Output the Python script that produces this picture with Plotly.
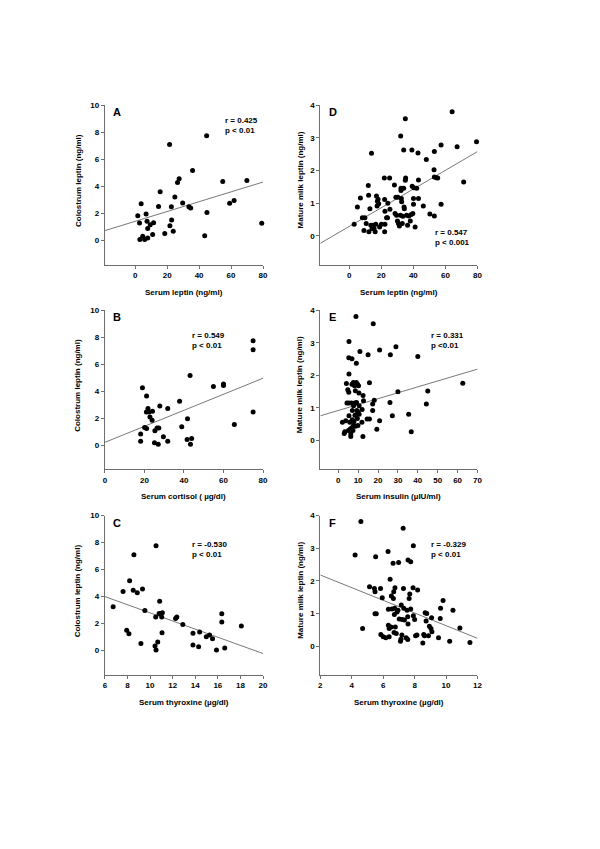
import plotly.graph_objects as go

# ---------------- data ----------------
# Panel A: serum leptin vs colostrum leptin
A_x = [1.6, 2.7, 3.7, 2.9, 4.7, 5.9, 6.8, 7.4, 7.8, 7.8, 9.4, 10.9, 11.5, 14.6, 15.6, 18.5,
       21.5, 21.7, 22.8, 22.6, 23.8, 24.8, 26.5, 27.5, 29.7, 33.6, 34.7, 35.9, 43.5, 44.7,
       44.9, 54.8, 59.1, 61.9, 69.9, 79.2]
A_y = [1.82, 1.28, 2.7, 0.05, 0.3, 0.05, 1.94, 1.4, 0.17, 0.86, 1.15, 0.42, 1.3, 2.5, 3.6, 0.49,
       7.1, 1.08, 1.5, 2.48, 0.66, 3.2, 4.27, 4.55, 2.75, 2.48, 2.38, 5.16, 0.34, 7.74,
       2.05, 4.35, 2.73, 2.95, 4.42, 1.25]
A_fit_x = [-19, 80]
A_fit_y = [0.71, 4.31]

# Panel D: serum leptin vs mature milk leptin
D_x = [3.1, 5.1, 7.0, 8.2, 9.2, 9.8, 10.6, 11.9, 12.1, 12.3, 12.9, 13.5, 13.9, 14.3, 14.9, 15.5,
       16.2, 16.6, 17.0, 17.4, 17.6, 18.0, 18.4, 19.0, 20.1, 21.9, 22.1, 22.3, 22.3, 22.1, 23.3,
       23.9, 24.1, 25.2, 25.4, 28.2, 28.6, 29.1, 29.5, 30.1, 30.3, 30.7, 31.3, 31.9, 32.1, 32.3,
       32.3, 32.5, 32.7, 33.1, 33.4, 34.0, 34.0, 34.2, 34.4, 35.0, 35.0, 35.2, 35.8, 36.4, 37.2,
       38.1, 38.7, 39.1, 39.3, 39.7, 40.1, 40.1, 40.3, 41.1, 42.1, 42.9, 43.2, 43.2, 46.2, 48.1,
       50.3, 52.9, 53.1, 53.1, 53.1, 54.4, 55.2, 57.3, 57.3, 64.2, 67.3, 71.4, 79.4]
D_y = [0.35, 0.88, 1.16, 0.55, 0.16, 0.55, 0.38, 1.54, 1.24, 0.12, 0.83, 0.32, 2.53, 0.22, 0.32, 0.22,
       0.12, 0.35, 1.22, 0.91, 1.06, 1.12, 0.98, 0.27, 0.35, 1.77, 1.11, 0.75, 0.35, 0.12, 0.55,
       0.55, 1.0, 1.77, 0.81, 1.56, 0.68, 1.18, 0.63, 0.45, 1.18, 0.38, 0.3, 0.63, 3.06, 1.46,
       1.39, 1.14, 1.04, 0.38, 0.6, 1.46, 2.63, 0.88, 0.83, 3.59, 1.7, 1.77, 0.63, 0.32, 0.61,
       0.45, 0.65, 2.63, 1.52, 0.68, 1.14, 0.97, 1.47, 0.27, 1.46, 2.54, 1.71, 1.14, 0.91, 2.34,
       0.67, 2.02, 2.58, 0.61, 1.8, 1.78, 1.77, 2.78, 0.97, 3.8, 2.73, 1.65, 2.88]
D_fit_x = [-18, 80]
D_fit_y = [-0.23, 2.58]

# Panel B: serum cortisol vs colostrum leptin
B_x = [19.0, 18.1, 18.1, 20.1, 21.1, 21.1, 21.0, 21.8, 22.3, 22.8, 24.1, 23.9, 25.3, 25.1, 26.4,
       27.0, 27.3, 27.8, 29.6, 31.8, 31.8, 37.8, 38.9, 41.8, 41.6, 43.1, 43.3, 43.9, 54.9, 60.0,
       60.0, 65.5, 75.0, 75.0, 75.0]
B_y = [4.24, 0.81, 0.29, 1.3, 1.23, 3.63, 2.45, 2.7, 2.45, 2.08, 2.5, 1.84, 1.05, 0.17, 1.27,
       0.05, 1.27, 2.9, 0.61, 2.7, 0.29, 3.24, 1.35, 1.94, 0.42, 5.15, 0.05, 0.49, 4.34, 4.53,
       4.41, 1.52, 7.72, 7.06, 2.45]
B_fit_x = [0, 80]
B_fit_y = [0.2, 4.95]

# Panel E: serum insulin vs mature milk leptin
E_x = [2.1, 3.0, 3.3, 3.8, 4.1, 4.4, 4.8, 5.1, 5.3, 5.3, 5.4, 5.3, 5.4, 5.4, 5.8, 6.1, 6.3, 6.3,
       6.6, 6.6, 6.9, 6.9, 7.1, 7.1, 7.4, 7.4, 7.6, 7.7, 7.9, 8.2, 8.2, 8.4, 8.6, 8.7, 8.9, 9.1,
       9.1, 9.2, 9.4, 9.6, 9.7, 9.9, 10.0, 10.2, 10.4, 10.5, 10.5, 10.9, 11.9, 12.0, 12.4, 12.5,
       12.7, 14.5, 15.0, 15.7, 15.7, 17.3, 17.3, 17.6, 18.1, 19.4, 20.8, 20.8, 26.0, 26.2, 27.2,
       29.0, 30.0, 35.4, 36.7, 40.0, 44.3, 45.0, 62.6]
E_y = [0.56, 0.22, 0.27, 0.61, 1.75, 1.15, 1.56, 0.31, 1.15, 1.48, 3.04, 2.54, 2.04, 0.76, 0.56,
       0.36, 0.2, 0.13, 0.36, 1.15, 2.51, 1.73, 0.92, 0.64, 0.44, 0.31, 1.78, 1.07, 0.58, 1.15,
       1.68, 0.78, 1.53, 0.44, 3.8, 1.78, 2.37, 1.17, 0.92, 0.68, 1.73, 0.46, 0.87, 1.68, 1.46,
       1.07, 0.81, 2.73, 0.56, 0.95, 0.13, 1.38, 1.22, 0.66, 2.63, 0.66, 1.77, 0.92, 1.12, 3.58,
       1.24, 0.35, 0.61, 2.78, 1.17, 2.63, 0.76, 2.88, 1.5, 0.81, 0.27, 2.58, 1.12, 1.52, 1.76]
E_fit_x = [-9, 70]
E_fit_y = [0.76, 2.19]

# Panel C: serum thyroxine vs colostrum leptin
C_x = [6.73, 7.61, 7.93, 8.13, 8.19, 8.51, 8.57, 8.87, 9.19, 9.33, 9.54, 10.44, 10.53, 10.50,
       10.53, 10.68, 10.80, 10.85, 10.94, 11.03, 11.06, 11.09, 12.26, 12.37, 12.9, 13.8, 13.8,
       14.3, 14.39, 14.98, 15.27, 15.53, 15.88, 16.35, 16.35, 16.61, 18.08]
C_y = [3.24, 4.37, 1.5, 1.25, 5.18, 4.47, 7.1, 4.28, 0.52, 4.57, 2.97, 0.34, 0.05, 2.48,
       7.76, 0.64, 2.75, 3.66, 2.73, 2.48, 1.33, 2.8, 2.38, 2.48, 1.94, 1.28, 0.42,
       0.29, 1.38, 1.03, 1.15, 0.88, 0.05, 2.11, 2.73, 0.2, 1.82]
C_fit_x = [6, 20]
C_fit_y = [4.0, -0.22]

# Panel F: serum thyroxine vs mature milk leptin
F_x = [4.21, 4.58, 4.69, 5.13, 5.44, 5.48, 5.52, 5.48, 5.56, 5.83, 5.85, 5.94, 6.0, 6.17, 6.31,
       6.33, 6.33, 6.38, 6.38, 6.44, 6.52, 6.5, 6.56, 6.63, 6.65, 6.67, 6.69, 6.71, 6.73, 6.75,
       6.77, 6.83, 6.88, 6.94, 7.02, 6.98, 7.10, 7.13, 7.15, 7.19, 7.21, 7.27, 7.29, 7.31, 7.35,
       7.46, 7.52, 7.56, 7.56, 7.58, 7.58, 7.65, 7.69, 7.75, 7.75, 7.9, 7.92, 7.92, 8.0, 8.06,
       8.15, 8.19, 8.52, 8.58, 8.63, 8.67, 8.77, 8.73, 8.88, 8.94, 9.04, 9.08, 9.1, 9.52, 9.65,
       9.63, 9.81, 10.23, 10.44, 10.88, 11.52]
F_y = [2.79, 3.82, 0.54, 1.82, 1.77, 1.67, 2.74, 0.99, 0.99, 1.77, 0.36, 1.48, 0.29, 0.26, 2.9,
       1.13, 0.64, 0.54, 0.29, 2.05, 1.54, 0.59, 1.14, 2.54, 1.46, 1.67, 0.42, 0.97, 1.16, 1.79,
       0.59, 0.39, 1.05, 1.1, 0.83, 2.56, 0.15, 0.21, 1.26, 0.34, 0.82, 3.61, 1.77, 1.16, 0.8,
       0.26, 1.1, 0.2, 0.9, 0.68, 2.64, 1.46, 1.6, 2.59, 1.14, 1.79, 0.93, 3.08, 0.82, 0.32,
       0.34, 1.72, 0.1, 0.36, 0.32, 1.02, 1.0, 0.77, 0.32, 0.61, 0.54, 0.87, 0.44, 0.26, 1.16,
       0.85, 1.4, 0.15, 1.1, 0.56, 0.11]
F_fit_x = [2, 12]
F_fit_y = [2.18, 0.24]

# labels
letters = ["A", "D", "B", "E", "C", "F"]
x_titles = ["Serum leptin (ng/ml)", "Serum leptin (ng/ml)", "Serum cortisol ( µg/dl)",
            "Serum insulin (µIU/ml)", "Serum thyroxine (µg/dl)", "Serum thyroxine (µg/dl)"]
y_titles = ["Colostrum leptin (ng/ml)", "Mature milk leptin (ng/ml)"] * 3
stats = ["r = 0.425<br>p < 0.01", "r = 0.547<br>p < 0.001", "r = 0.549<br>p < 0.01",
         "r = 0.331<br>p <0.01", "r = -0.530<br>p < 0.01", "r = -0.329<br>p < 0.01"]
x_ranges = [[-19, 80], [-18, 80], [0, 80], [-9, 70], [6, 20], [2, 12]]
x_ticks = [[0, 20, 40, 60, 80], [0, 20, 40, 60, 80], [0, 20, 40, 60, 80],
           [0, 10, 20, 30, 40, 50, 60, 70], [6, 8, 10, 12, 14, 16, 18, 20], [2, 4, 6, 8, 10, 12]]
y_ranges = [[-1.8, 10], [-0.88, 4]] * 3
y_ticks = [[0, 2, 4, 6, 8, 10], [0, 1, 2, 3, 4]] * 3

panels = [(A_x, A_y, A_fit_x, A_fit_y), (D_x, D_y, D_fit_x, D_fit_y),
          (B_x, B_y, B_fit_x, B_fit_y), (E_x, E_y, E_fit_x, E_fit_y),
          (C_x, C_y, C_fit_x, C_fit_y), (F_x, F_y, F_fit_x, F_fit_y)]

# ---------------- layout geometry (page pixels) ----------------
W, H = 600, 849
OFF = 8  # default page body margin
col_px = [(104, 264), (322, 481)]
row_px = [(101.7, 261.7), (307.5, 467.5), (514, 674)]
stat_pos = [(0.744, 0.873), (0.717, 0.17), (0.54, 0.81), (0.69, 0.81), (0.54, 0.79), (0.69, 0.79)]

FONT = "Liberation Sans, Arial, sans-serif"
AX_COLOR = "#6e6e6e"
FS = 8

fig = go.Figure()
layout = dict(width=W, height=H, margin=dict(l=0, r=0, t=0, b=0),
              paper_bgcolor="white", plot_bgcolor="white", showlegend=False,
              font=dict(family=FONT, size=FS, color="black"))
annotations = []

for i, (px, py, fx, fy) in enumerate(panels):
    r, c = divmod(i, 2)
    sfx = "" if i == 0 else str(i + 1)
    xa, ya = "x" + sfx, "y" + sfx
    x0, x1 = [v - OFF for v in col_px[c]]
    y0, y1 = [v - OFF for v in row_px[r]]
    fig.add_trace(go.Scatter(x=fx, y=fy, mode="lines", xaxis=xa, yaxis=ya,
                             line=dict(color="#555555", width=0.8), hoverinfo="skip"))
    fig.add_trace(go.Scatter(x=px, y=py, mode="markers", xaxis=xa, yaxis=ya,
                             marker=dict(color="black", size=5, line=dict(width=0)),
                             cliponaxis=False))
    common = dict(showgrid=False, zeroline=False, showline=True, linecolor=AX_COLOR,
                  linewidth=1, ticks="outside", ticklen=3, tickcolor=AX_COLOR, tickwidth=1,
                  tickfont=dict(family=FONT, size=FS, color="black", weight="bold"))
    layout["xaxis" + sfx] = dict(domain=[x0 / W, x1 / W], anchor=ya, range=x_ranges[i],
                                 tickmode="array", tickvals=x_ticks[i], **common)
    layout["yaxis" + sfx] = dict(domain=[1 - y1 / H, 1 - y0 / H], anchor=xa, range=y_ranges[i],
                                 tickmode="array", tickvals=y_ticks[i], **common)
    xd, yd = xa + " domain", ya + " domain"
    annotations.append(dict(text="<b>%s</b>" % letters[i], xref=xd, yref=yd, x=0.04, y=0.955,
                            xanchor="left", yanchor="middle", showarrow=False,
                            font=dict(family=FONT, size=11, color="black")))
    annotations.append(dict(text="<b>%s</b>" % stats[i], xref=xd, yref=yd,
                            x=stat_pos[i][0], y=stat_pos[i][1], xanchor="left", yanchor="middle",
                            align="left", showarrow=False,
                            font=dict(family=FONT, size=FS, color="black")))
    annotations.append(dict(text="<b>%s</b>" % x_titles[i], xref=xd, yref=yd, x=0.5, y=0,
                            yshift=-27.5, xanchor="center", yanchor="middle", showarrow=False,
                            font=dict(family=FONT, size=FS, color="black")))
    annotations.append(dict(text="<b>%s</b>" % y_titles[i], xref=xd, yref=yd, x=0, y=0.53,
                            xshift=(-27 if c == 0 else -20), xanchor="center", yanchor="middle",
                            textangle=-90, showarrow=False,
                            font=dict(family=FONT, size=FS, color="black")))

layout["annotations"] = annotations
fig.update_layout(**layout)
fig.write_html("out.html")
